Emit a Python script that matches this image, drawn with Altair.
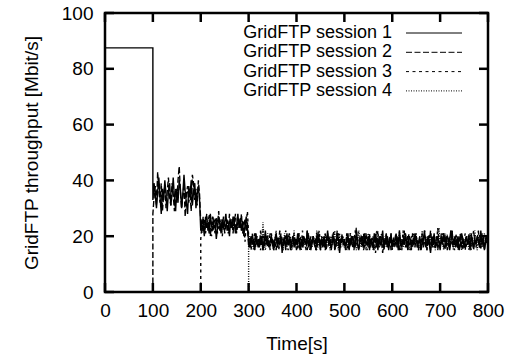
import altair as alt
import pandas as pd

# ---------------- data ----------------
series_names = ["GridFTP session 1", "GridFTP session 2", "GridFTP session 3", "GridFTP session 4"]
x_ticks = [0, 100, 200, 300, 400, 500, 600, 700, 800]
y_ticks = [0, 20, 40, 60, 80, 100]

# session starts (s) and segment boundaries
start_times = [0, 100, 200, 300]
seg_bounds = [(100, 200), (200, 300), (300, 800)]

# session 1 alone at the start
s1_alone_t = [0, 100]
s1_alone_v = [87.5, 87.5]

# ---- 100-200 s (2 sessions) ----
s1_a = [33, 39, 35, 30, 36, 41, 34, 28, 37, 33, 40, 35, 29, 36, 39, 31, 35, 41, 34, 29,
        37, 32, 40, 37, 30, 35, 42, 36, 32, 28, 38, 34, 40, 31, 36, 39, 30, 35, 38, 33]
s2_a = [28, 34, 38, 31, 43, 36, 32, 39, 29, 35, 38, 30, 36, 41, 34, 31, 39, 35, 29, 37,
        32, 40, 45, 36, 30, 34, 39, 27, 35, 38, 32, 36, 29, 42, 39, 33, 37, 31, 40, 35]

# ---- 200-300 s (3 sessions) ----
s1_b = [22, 26, 24, 20, 27, 23, 25, 21, 28, 24, 22, 26, 25, 19, 23, 27, 24, 21, 26, 23,
        25, 28, 22, 24, 20, 26, 23, 27, 25, 21, 24, 28, 23, 26, 22, 25, 20, 24, 27, 23]
s2_b = [25, 21, 27, 23, 24, 28, 22, 26, 20, 25, 27, 23, 21, 26, 24, 29, 22, 25, 23, 27,
        21, 24, 26, 22, 28, 23, 25, 21, 27, 24, 22, 26, 25, 23, 28, 21, 24, 26, 22, 25]
s3_b = [19, 24, 22, 26, 21, 25, 23, 28, 24, 20, 26, 22, 25, 27, 21, 24, 23, 26, 20, 25,
        22, 27, 24, 21, 25, 23, 26, 22, 24, 28, 21, 25, 23, 27, 22, 26, 24, 18, 25, 29]

# ---- 300-800 s (4 sessions) ----
s1_c = [18, 16, 20, 17, 19, 15, 21, 18, 16, 19, 17, 20, 15, 18, 22, 17, 19, 16, 18, 20,
        17, 15, 19, 21, 16, 18, 17, 20, 14, 19, 18, 16, 21, 17, 19, 15, 18, 20, 16, 19,
        17, 21, 18, 15, 19, 16, 20, 18, 17, 22, 16, 19, 15, 18, 20, 17, 19, 16, 21, 18,
        15, 19, 17, 20, 16, 18, 22, 17, 19, 15, 18, 20, 16, 17, 21, 19, 14, 18, 20, 17,
        19, 16, 18, 21, 15, 19, 17, 20, 18, 16, 22, 17, 15, 19, 18, 20, 16, 21, 17, 18,
        20, 15, 19, 17, 16, 21, 18, 19, 15, 20, 17, 18, 22, 16, 19, 17, 20, 15, 18, 21,
        16, 19, 18, 17, 20, 15, 22, 18, 16, 19, 17, 21, 18, 15, 20, 19, 16, 18, 17, 21,
        19, 16, 18, 20, 15, 17, 19, 22, 16, 18, 20, 17, 14, 19, 18, 21, 16, 17, 20, 18,
        15, 19, 17, 21, 18, 16, 20, 19, 15, 18, 22, 17, 19, 16, 18, 20, 15, 17, 21, 19,
        16, 18, 20, 17, 19, 15, 21, 18, 16, 19, 17, 20, 18, 16, 22, 17, 19, 15, 18, 20]
s2_c = [16, 19, 17, 21, 18, 15, 20, 17, 19, 16, 22, 18, 15, 19, 17, 20, 16, 18, 21, 17,
        19, 16, 18, 15, 20, 17, 22, 19, 16, 18, 20, 15, 17, 19, 21, 18, 16, 20, 17, 19,
        15, 18, 21, 16, 19, 17, 20, 18, 15, 22, 17, 19, 16, 18, 20, 17, 15, 21, 18, 19,
        17, 20, 16, 18, 15, 19, 21, 17, 18, 16, 20, 19, 15, 17, 22, 18, 16, 19, 20, 17,
        18, 15, 21, 19, 16, 17, 20, 18, 15, 19, 23, 17, 16, 18, 20, 19, 15, 17, 21, 18,
        16, 20, 17, 19, 15, 18, 21, 16, 19, 17, 20, 18, 14, 19, 17, 21, 16, 18, 20, 15,
        19, 17, 18, 21, 16, 20, 15, 18, 19, 17, 22, 16, 18, 20, 17, 19, 15, 21, 18, 16,
        20, 18, 15, 19, 17, 21, 16, 18, 19, 15, 20, 17, 22, 18, 16, 19, 17, 20, 15, 18,
        17, 21, 19, 16, 18, 20, 15, 17, 19, 22, 18, 16, 20, 17, 19, 15, 18, 21, 16, 19,
        18, 15, 20, 17, 21, 16, 19, 18, 15, 20, 17, 19, 22, 16, 18, 17, 20, 15, 19, 18]
s3_c = [20, 17, 15, 19, 18, 21, 16, 20, 17, 19, 15, 18, 22, 16, 19, 17, 20, 18, 15, 21,
        17, 19, 16, 20, 18, 15, 17, 21, 19, 16, 18, 22, 17, 15, 20, 19, 16, 18, 21, 17,
        19, 15, 18, 20, 16, 22, 17, 19, 18, 15, 21, 16, 20, 17, 19, 18, 16, 15, 20, 22,
        17, 19, 16, 18, 21, 15, 19, 17, 20, 16, 18, 22, 15, 19, 17, 21, 18, 16, 20, 19,
        16, 18, 20, 15, 17, 21, 19, 16, 18, 22, 17, 20, 15, 19, 18, 16, 21, 17, 19, 15,
        18, 21, 16, 20, 17, 19, 14, 18, 22, 16, 19, 17, 20, 15, 18, 21, 17, 16, 19, 20,
        15, 18, 17, 21, 19, 16, 20, 18, 15, 22, 17, 19, 16, 18, 21, 15, 20, 17, 19, 18,
        21, 16, 19, 17, 15, 20, 18, 22, 16, 19, 17, 21, 15, 18, 20, 16, 19, 17, 23, 18,
        16, 19, 21, 17, 15, 20, 18, 16, 19, 22, 17, 18, 15, 21, 19, 16, 20, 17, 18, 15,
        19, 21, 16, 18, 20, 17, 15, 19, 22, 18, 16, 20, 17, 19, 15, 21, 18, 16, 19, 17]
s4_c = [17, 20, 16, 19, 15, 18, 21, 17, 19, 16, 20, 18, 25, 17, 15, 19, 21, 16, 18, 20,
        17, 15, 19, 22, 16, 18, 20, 17, 19, 15, 21, 18, 16, 19, 17, 20, 15, 18, 22, 16,
        19, 17, 21, 18, 15, 20, 16, 19, 17, 18, 21, 15, 19, 16, 20, 18, 17, 22, 16, 19,
        15, 18, 20, 17, 21, 16, 19, 18, 15, 20, 17, 19, 22, 16, 18, 15, 21, 17, 19, 20,
        16, 18, 15, 19, 17, 21, 18, 16, 20, 19, 15, 17, 22, 18, 16, 19, 20, 17, 15, 18,
        21, 16, 19, 17, 20, 15, 18, 22, 16, 19, 17, 21, 18, 15, 20, 16, 19, 18, 17, 21,
        15, 19, 16, 20, 18, 17, 22, 15, 19, 16, 18, 21, 17, 20, 15, 18, 19, 16, 21, 17,
        20, 18, 15, 19, 16, 22, 17, 18, 20, 15, 19, 17, 21, 16, 18, 19, 15, 20, 17, 23,
        16, 19, 18, 15, 21, 17, 20, 16, 19, 18, 22, 15, 17, 20, 16, 19, 18, 21, 15, 17,
        19, 16, 20, 18, 15, 21, 17, 19, 16, 22, 18, 15, 20, 17, 19, 16, 18, 21, 17, 19]

session_segments = [
    [s1_a, s1_b, s1_c],
    [s2_a, s2_b, s2_c],
    [None, s3_b, s3_c],
    [None, None, s4_c],
]

# ---------------- build table ----------------
rows = []
for k, name in enumerate(series_names):
    pts = []
    if k == 0:
        pts += list(zip(s1_alone_t, s1_alone_v))
    else:
        pts.append((start_times[k], 0))
    for (a, b), seg in zip(seg_bounds, session_segments[k]):
        if seg is None:
            continue
        dt = (b - a) / len(seg)
        pts += [(a + j * dt, v) for j, v in enumerate(seg)]
    for i, (t, v) in enumerate(pts):
        rows.append({"t": t, "v": v, "series": name, "i": i})
df = pd.DataFrame(rows)

# ---------------- chart ----------------
W, H = 383, 279
FONT = "Liberation Sans"
dashes = [[1, 0], [6, 2.5], [3, 3.5], [1, 1.5]]

x_scale = alt.Scale(domain=[0, 800], nice=False, zero=False)
y_scale = alt.Scale(domain=[0, 100], nice=False)
x_axis = alt.Axis(values=x_ticks, title="Time[s]", labelPadding=9, titlePadding=14, labelFlush=False)
y_axis = alt.Axis(values=y_ticks, title="GridFTP throughput [Mbit/s]", labelPadding=12, titlePadding=20,
                  labelFlush=False)

lines = alt.Chart(df).mark_line(strokeWidth=1.4, color="black", clip=True).encode(
    x=alt.X("t:Q", scale=x_scale, axis=x_axis),
    y=alt.Y("v:Q", scale=y_scale, axis=y_axis),
    detail="series:N",
    order="i:Q",
    strokeDash=alt.StrokeDash("series:N", scale=alt.Scale(domain=series_names, range=dashes), legend=None),
)

TL = 9
xt = pd.DataFrame({"t": x_ticks})
yt = pd.DataFrame({"v": y_ticks})
tick_x_bottom = alt.Chart(xt).mark_rule(color="black", strokeWidth=2.5).encode(
    x=alt.X("t:Q", scale=x_scale, axis=x_axis), y=alt.value(H), y2=alt.value(H - TL))
tick_x_top = alt.Chart(xt).mark_rule(color="black", strokeWidth=2.5).encode(
    x=alt.X("t:Q", scale=x_scale, axis=x_axis), y=alt.value(0), y2=alt.value(TL))
tick_y_left = alt.Chart(yt).mark_rule(color="black", strokeWidth=2.5).encode(
    y=alt.Y("v:Q", scale=y_scale, axis=y_axis), x=alt.value(0), x2=alt.value(TL))
tick_y_right = alt.Chart(yt).mark_rule(color="black", strokeWidth=2.5).encode(
    y=alt.Y("v:Q", scale=y_scale, axis=y_axis), x=alt.value(W), x2=alt.value(W - TL))

legend_layers = []
for k, name in enumerate(series_names):
    ly = 20 + 19.3 * k
    ldf = pd.DataFrame({"label": [name]})
    legend_layers.append(
        alt.Chart(ldf).mark_text(align="right", baseline="middle", fontSize=18, font=FONT, color="black")
        .encode(x=alt.value(287), y=alt.value(ly), text="label:N")
    )
    legend_layers.append(
        alt.Chart(ldf).mark_rule(color="black", strokeWidth=1, strokeDash=dashes[k])
        .encode(x=alt.value(301), x2=alt.value(357), y=alt.value(ly))
    )

chart = alt.layer(lines, tick_x_bottom, tick_x_top, tick_y_left, tick_y_right, *legend_layers).properties(
    width=W, height=H,
    autosize=alt.AutoSizeParams(type="none"),
    padding={"left": 105, "top": 13, "right": 31, "bottom": 64},
    background="white",
).configure_view(stroke="black", strokeWidth=2.5).configure_axis(
    domain=False, ticks=False, grid=False,
    labelFont=FONT, titleFont=FONT, labelFontSize=19, titleFontSize=19,
    titleFontWeight="normal", labelColor="black", titleColor="black",
)

chart.save("out.html", embed_options={"renderer": "svg", "actions": False})
